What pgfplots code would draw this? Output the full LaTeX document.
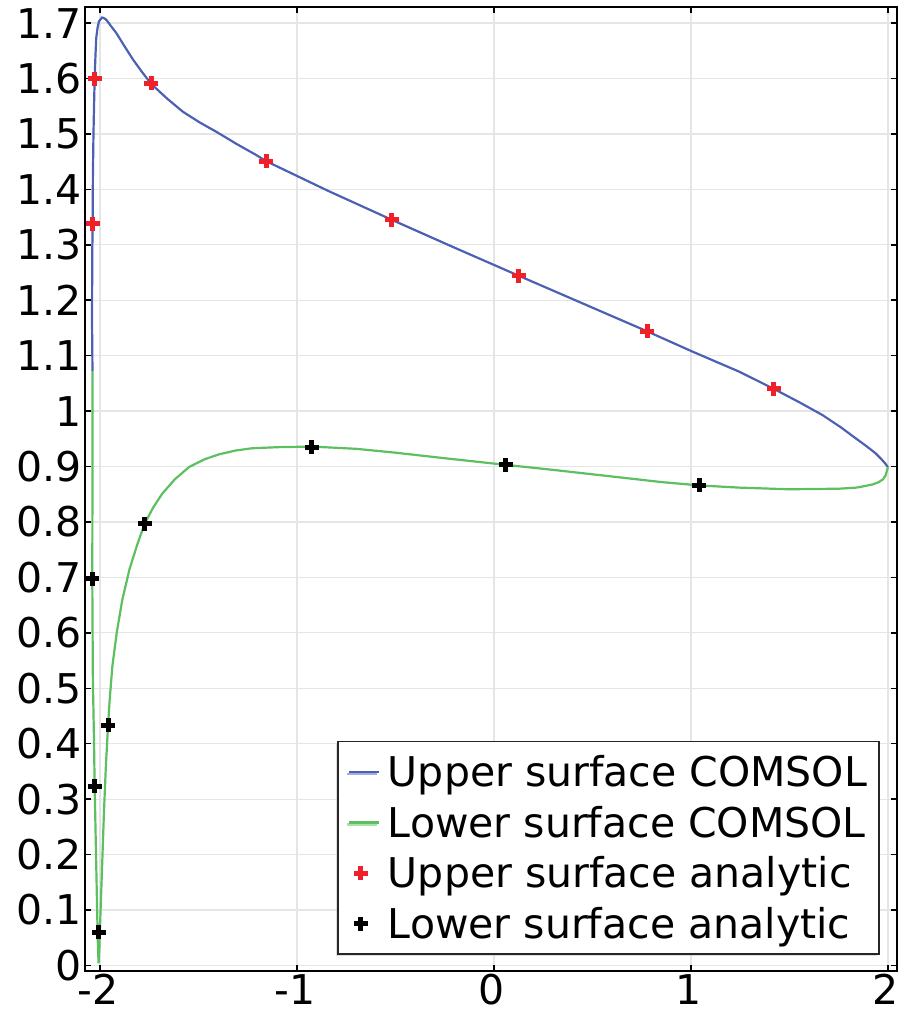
\documentclass[border=0pt]{standalone}
\usepackage{fontspec}
\setmainfont{DejaVu Sans}
\usepackage{pgfplots}
\pgfplotsset{compat=1.18}
\usetikzlibrary{shadows}

\definecolor{cblue}{RGB}{76,96,180}
\definecolor{cgreen}{RGB}{92,192,96}
\definecolor{cred}{RGB}{240,32,42}

\pgfplotsset{
  lineleg/.style={legend image code/.code={\draw[##1] (0bp,0bp) -- (30bp,0bp);}},
  markleg/.style={legend image code/.code={\draw[##1] plot coordinates {(12bp,0bp)};}},
}

\begin{document}
\begin{tikzpicture}
\useasboundingbox (-85bp,-47bp) rectangle (813bp,971bp);
\begin{axis}[
  scale only axis,
  width=812bp, height=964bp,
  xmin=-2.076, xmax=2.046,
  ymin=-0.010, ymax=1.729,
  xtick={-2,-1,0,1,2},
  ytick={0,0.1,0.2,0.3,0.4,0.5,0.6,0.7,0.8,0.9,1,1.1,1.2,1.3,1.4,1.5,1.6,1.7},
  /pgf/number format/assume math mode=true,
  /pgf/number format/fixed,
  /pgf/number format/precision=1,
  tick label style={font=\fontsize{41bp}{49bp}\selectfont},
  xticklabel style={xshift=-2bp},
  tick align=inside,
  major tick length=6bp,
  tick style={line width=1.5bp, black},
  axis line style={line width=1.8bp},
  grid=major,
  grid style={line width=1.3bp, draw=black!10},
  legend cell align=left,
  legend style={
    at={(1,0)}, anchor=south east, xshift=-17bp, yshift=16bp,
    font=\fontsize{41bp}{49bp}\selectfont,
    draw=black!85, line width=1.8bp,
    inner xsep=10bp, inner ysep=12bp,
    nodes={inner sep=2bp},
    row sep=14bp, column sep=6bp,
    drop shadow={shadow xshift=-2bp, shadow yshift=-2bp, fill=black!25},
  },
]

% upper surface, COMSOL
\addplot[cblue, line width=2.2bp, lineleg]
coordinates {
  (-2.038,1.072) (-2.040,1.150) (-2.040,1.200) (-2.039,1.290) (-2.037,1.338)
  (-2.036,1.420) (-2.033,1.500) (-2.030,1.552) (-2.027,1.600) (-2.023,1.640)
  (-2.019,1.673) (-2.012,1.692) (-2.005,1.703) (-1.990,1.710) (-1.980,1.709)
  (-1.968,1.706) (-1.945,1.695) (-1.917,1.682) (-1.875,1.658) (-1.832,1.634)
  (-1.785,1.611) (-1.739,1.590) (-1.660,1.564) (-1.579,1.540) (-1.495,1.521)
  (-1.410,1.504) (-1.307,1.482) (-1.207,1.462) (-1.157,1.451) (-0.840,1.397)
  (-0.518,1.345) (-0.195,1.294) (0.127,1.244) (0.452,1.194) (0.777,1.144)
  (1.010,1.107) (1.246,1.071) (1.421,1.040) (1.550,1.016) (1.667,0.993)
  (1.760,0.971) (1.836,0.951) (1.890,0.937) (1.937,0.924) (1.965,0.914)
  (1.985,0.906) (2.000,0.899)
};
\addlegendentry{Upper surface COMSOL}

% lower surface, COMSOL
\addplot[cgreen, line width=2.2bp, lineleg]
coordinates {
  (-2.038,1.072) (-2.038,0.900) (-2.039,0.698) (-2.036,0.514) (-2.030,0.400)
  (-2.027,0.323) (-2.020,0.200) (-2.014,0.093) (-2.010,0.030) (-2.007,0.004)
  (-2.003,0.030) (-2.001,0.057) (-1.990,0.170) (-1.980,0.274) (-1.970,0.360)
  (-1.959,0.433) (-1.951,0.478) (-1.937,0.540) (-1.915,0.600) (-1.887,0.659)
  (-1.850,0.715) (-1.810,0.760) (-1.773,0.797) (-1.730,0.826) (-1.684,0.851)
  (-1.620,0.877) (-1.548,0.899) (-1.470,0.913) (-1.396,0.922) (-1.310,0.929)
  (-1.227,0.933) (-1.091,0.935) (-0.924,0.936) (-0.700,0.932) (-0.500,0.925)
  (-0.250,0.915) (0.061,0.903) (0.300,0.894) (0.600,0.882) (0.850,0.872)
  (1.041,0.866) (1.244,0.862) (1.497,0.859) (1.751,0.860) (1.840,0.862)
  (1.886,0.865) (1.925,0.868) (1.954,0.872) (1.975,0.877) (1.988,0.884)
  (2.000,0.899)
};
\addlegendentry{Lower surface COMSOL}

% upper surface, analytic
\addplot[only marks, mark=+, mark size=7bp, line width=5bp, cred, markleg]
coordinates {
  (-2.027,1.600) (-1.739,1.591) (-1.157,1.451) (-0.518,1.345)
  (0.127,1.244) (0.777,1.144) (1.421,1.040) (-2.037,1.338)
};
\addlegendentry{Upper surface analytic}

% lower surface, analytic
\addplot[only marks, mark=+, mark size=7bp, line width=5bp, black, markleg]
coordinates {
  (-2.039,0.698) (-1.773,0.797) (-0.924,0.935) (0.061,0.903)
  (1.041,0.866) (-1.959,0.433) (-2.027,0.323) (-2.005,0.060)
};
\addlegendentry{Lower surface analytic}

\end{axis}
\end{tikzpicture}
\end{document}
